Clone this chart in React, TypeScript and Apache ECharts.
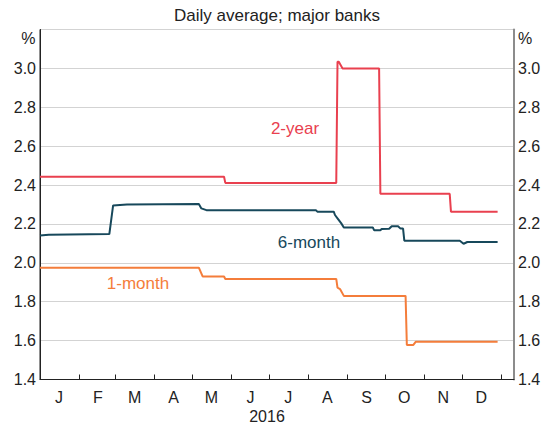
import React, { useEffect, useRef } from "react";
import * as echarts from "echarts";

const monthLetters = ["J", "F", "M", "A", "M", "J", "J", "A", "S", "O", "N", "D"];
const yTicks = [1.4, 1.6, 1.8, 2.0, 2.2, 2.4, 2.6, 2.8, 3.0, 3.2];

const twoYear: [string, number][] = [
  ["2016-01-01", 2.443], ["2016-05-26", 2.443], ["2016-05-27", 2.411],
  ["2016-08-23", 2.411], ["2016-08-24", 3.034], ["2016-08-25", 3.034],
  ["2016-08-28", 3.0], ["2016-09-26", 3.0], ["2016-09-27", 2.355],
  ["2016-11-21", 2.355], ["2016-11-22", 2.263], ["2016-12-29", 2.263],
];

const sixMonth: [string, number][] = [
  ["2016-01-01", 2.14], ["2016-01-08", 2.145], ["2016-02-25", 2.148],
  ["2016-02-28", 2.295], ["2016-03-10", 2.3], ["2016-05-06", 2.302],
  ["2016-05-08", 2.28], ["2016-05-12", 2.271], ["2016-08-07", 2.27],
  ["2016-08-08", 2.263], ["2016-08-21", 2.263], ["2016-08-22", 2.246],
  ["2016-08-24", 2.229], ["2016-08-27", 2.203], ["2016-08-29", 2.182],
  ["2016-09-21", 2.182], ["2016-09-22", 2.168], ["2016-09-27", 2.168],
  ["2016-09-28", 2.174], ["2016-10-04", 2.175], ["2016-10-06", 2.188],
  ["2016-10-11", 2.188], ["2016-10-13", 2.176], ["2016-10-15", 2.176],
  ["2016-10-16", 2.114], ["2016-11-29", 2.114], ["2016-12-02", 2.098],
  ["2016-12-05", 2.107], ["2016-12-29", 2.107],
];

const oneMonth: [string, number][] = [
  ["2016-01-01", 1.975], ["2016-05-06", 1.975], ["2016-05-09", 1.93],
  ["2016-05-26", 1.93], ["2016-05-27", 1.917], ["2016-08-23", 1.917],
  ["2016-08-24", 1.872], ["2016-08-26", 1.865], ["2016-08-29", 1.83],
  ["2016-10-17", 1.83], ["2016-10-18", 1.577], ["2016-10-23", 1.577],
  ["2016-10-25", 1.594], ["2016-12-29", 1.594],
];

const RED = "#e9404f";
const TEAL = "#17485b";
const ORANGE = "#f47d3b";
const FONT = "'Liberation Sans', Arial, sans-serif";

const DAY_MS = 86400000;
const startMs = Date.UTC(2016, 0, 1);
const dayCount = 377;
const categories: string[] = Array.from({ length: dayCount }, (_, i) =>
  new Date(startMs + i * DAY_MS).toISOString().slice(0, 10)
);

const toIndexed = (pts: [string, number][]) =>
  pts.map(([d, v]) => [categories.indexOf(d), v]);

export default function App() {
  const ref = useRef<HTMLDivElement>(null);
  useEffect(() => {
    document.body.style.margin = "0";
    const chart = echarts.init(ref.current!, undefined, { renderer: "svg" });
    const yAxisBase = (pos: "left" | "right", lineColor: string, lineWidth: number) => ({
      type: "value",
      position: pos,
      min: yTicks[0],
      max: yTicks[yTicks.length - 1],
      interval: 0.2,
      axisLine: { show: true, lineStyle: { color: lineColor, width: lineWidth } },
      axisTick: { show: false },
      splitLine: { show: pos === "left", lineStyle: { color: "#d3d3d3", width: 1 } },
      axisLabel: {
        color: "#222",
        fontSize: 16,
        fontFamily: FONT,
        margin: 4,
        formatter: (v: number) => (v > 3.1 ? "" : v.toFixed(1)),
      },
    });
    chart.setOption({
      animation: false,
      grid: {
        left: 40,
        right: 40,
        top: 29.5,
        height: 350,
        show: true,
        borderColor: "#222",
        borderWidth: 1,
      },
      xAxis: {
        type: "category",
        data: categories,
        boundaryGap: false,
        axisLine: { lineStyle: { color: "#222", width: 1 } },
        axisTick: {
          show: true,
          inside: true,
          length: 5,
          interval: (_i: number, v: string) => v.endsWith("-01"),
          lineStyle: { color: "#222" },
        },
        axisLabel: {
          interval: (_i: number, v: string) => v.startsWith("2016") && v.endsWith("-16"),
          formatter: (v: string) => monthLetters[Number(v.slice(5, 7)) - 1],
          color: "#222",
          fontSize: 16,
          fontFamily: FONT,
          margin: 10,
        },
        splitLine: { show: false },
      },
      yAxis: [yAxisBase("left", "#222", 1), yAxisBase("right", "#8c8c8c", 2)],
      series: [
        { name: "2-year", type: "line", data: toIndexed(twoYear), symbol: "none", lineStyle: { color: RED, width: 2 } },
        { name: "6-month", type: "line", data: toIndexed(sixMonth), symbol: "none", lineStyle: { color: TEAL, width: 2 } },
        { name: "1-month", type: "line", data: toIndexed(oneMonth), symbol: "none", lineStyle: { color: ORANGE, width: 2 } },
      ],
      graphic: [
        { type: "text", x: 277, y: 15, style: { text: "Daily average; major banks", fill: "#222", fontSize: 17, fontFamily: FONT, align: "center", verticalAlign: "middle" } },
        { type: "text", x: 35.5, y: 38, style: { text: "%", fill: "#222", fontSize: 16, fontFamily: FONT, align: "right", verticalAlign: "middle" } },
        { type: "text", x: 518, y: 38, style: { text: "%", fill: "#222", fontSize: 16, fontFamily: FONT, align: "left", verticalAlign: "middle" } },
        { type: "text", x: 267, y: 416, style: { text: "2016", fill: "#222", fontSize: 16, fontFamily: FONT, align: "center", verticalAlign: "middle" } },
        { type: "text", x: 295, y: 128, style: { text: "2-year", fill: RED, fontSize: 17, fontFamily: FONT, align: "center", verticalAlign: "middle" } },
        { type: "text", x: 309, y: 242, style: { text: "6-month", fill: TEAL, fontSize: 17, fontFamily: FONT, align: "center", verticalAlign: "middle" } },
        { type: "text", x: 138, y: 283, style: { text: "1-month", fill: ORANGE, fontSize: 17, fontFamily: FONT, align: "center", verticalAlign: "middle" } },
      ],
    });
    return () => chart.dispose();
  }, []);
  return <div ref={ref} style={{ width: 554, height: 427 }} />;
}
